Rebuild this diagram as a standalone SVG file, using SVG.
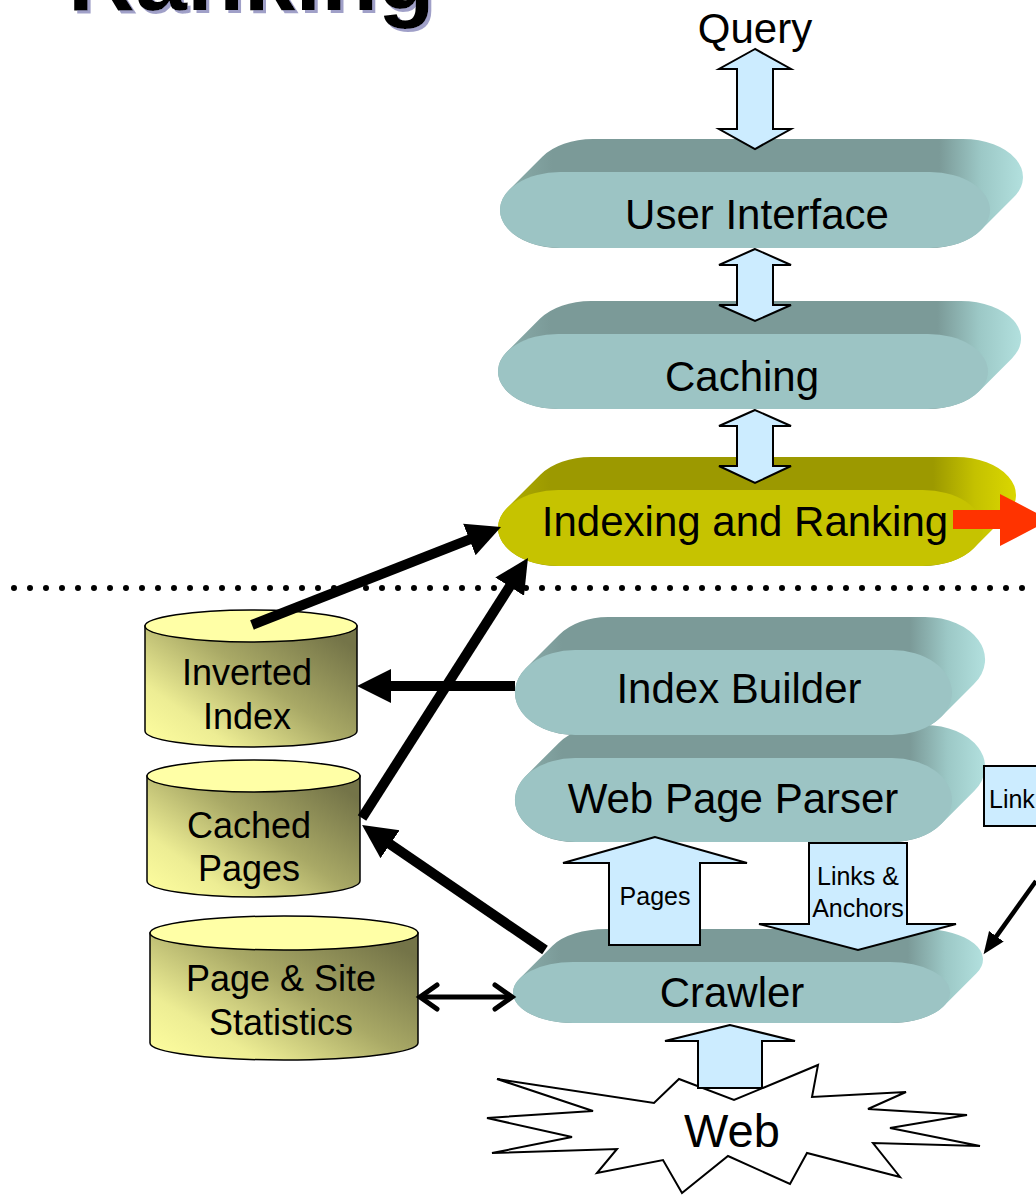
<svg xmlns="http://www.w3.org/2000/svg" width="1036" height="1196" viewBox="0 0 1036 1196">
  <defs>
    <style>
      text { font-family: "Liberation Sans", Arial, sans-serif; fill: #000; }
      .lbl { font-size: 42px; text-anchor: middle; }
      .dbl { font-size: 36px; text-anchor: middle; }
      .small { font-size: 25px; text-anchor: middle; }
      .face { fill: #9CC4C4; }
      .side { fill: url(#tealSide); }
      .faceY { fill: #C6C300; }
      .sideY { fill: url(#olivSide); }
      .blue { fill: #CCECFF; stroke: #000; stroke-width: 2; stroke-linejoin: miter; }
      .thick { stroke: #000; stroke-width: 10; fill: none; marker-end: url(#ah); }
      .cylBody { fill: url(#cylGrad); stroke: #000; stroke-width: 1.5; }
      .cylTop { fill: #FFFFA6; stroke: #000; stroke-width: 1.5; }
    </style>
    <filter id="titleShadow" x="-5%" y="-20%" width="110%" height="140%">
      <feFlood flood-color="#A0A0C8" result="c"/>
      <feComposite in="c" in2="SourceAlpha" operator="in" result="s"/>
      <feOffset in="s" dx="3" dy="3" result="o"/>
      <feMerge><feMergeNode in="o"/><feMergeNode in="SourceGraphic"/></feMerge>
    </filter>
    <linearGradient id="tealSide" x1="0" y1="0" x2="1" y2="0">
      <stop offset="0" stop-color="#8DB0AE"/>
      <stop offset="0.1" stop-color="#7B9A98"/>
      <stop offset="0.84" stop-color="#7B9A98"/>
      <stop offset="0.92" stop-color="#9CC8C6"/>
      <stop offset="1" stop-color="#B2E0DE"/>
    </linearGradient>
    <linearGradient id="olivSide" x1="0" y1="0" x2="1" y2="0">
      <stop offset="0" stop-color="#B2AF00"/>
      <stop offset="0.1" stop-color="#9C9900"/>
      <stop offset="0.84" stop-color="#9C9900"/>
      <stop offset="0.92" stop-color="#C4C100"/>
      <stop offset="1" stop-color="#DAD700"/>
    </linearGradient>
    <linearGradient id="cylGrad" x1="0" y1="1" x2="1" y2="0.2">
      <stop offset="0" stop-color="#FFFFA0"/>
      <stop offset="0.25" stop-color="#EDED94"/>
      <stop offset="0.6" stop-color="#A9A966"/>
      <stop offset="1" stop-color="#747448"/>
    </linearGradient>
    <marker id="ah" markerUnits="userSpaceOnUse" markerWidth="40" markerHeight="40" viewBox="0 -20 40 40" refX="1" refY="0" orient="auto">
      <path d="M0,-17 L34,0 L0,17 z" fill="#000"/>
    </marker>
    <marker id="ahs" markerUnits="userSpaceOnUse" markerWidth="26" markerHeight="22" viewBox="0 -11 26 22" refX="1" refY="0" orient="auto">
      <path d="M0,-9 L22,0 L0,9 z" fill="#000"/>
    </marker>
  </defs>

  <!-- heading (partially above the page) -->
  <g id="title">
    <text x="68" y="10" font-size="93" font-weight="bold" filter="url(#titleShadow)">Ranking</text>
  </g>

  <!-- separator between query side and indexing side -->
  <line id="divider" x1="14" y1="588" x2="1036" y2="588" stroke="#000" stroke-width="6" stroke-linecap="round" stroke-dasharray="0 16"/>

  <g id="query">
    <text class="lbl" x="755" y="43">Query</text>
  </g>

  <g id="user-interface">
    <path class="side" d="M509.3,189.7 L542.3,156.7 A60,38 0 0 1 593,139 L963,139 A60,38 0 0 1 1013.7,197.3 L980.7,230.3 A60,38 0 0 1 930,248 L560,248 A60,38 0 0 1 509.3,189.7 Z"/>
    <rect class="face" x="500" y="172" width="490" height="76" rx="60" ry="38"/>
    <text class="lbl" x="757" y="229">User Interface</text>
  </g>

  <g id="caching">
    <path class="side" d="M507.1,351.6 L540.1,318.6 A60,37.5 0 0 1 591,301 L961,301 A60,37.5 0 0 1 1011.9,358.4 L978.9,391.4 A60,37.5 0 0 1 928,409 L558,409 A60,37.5 0 0 1 507.1,351.6 Z"/>
    <rect class="face" x="498" y="334" width="490" height="75" rx="60" ry="37.5"/>
    <text class="lbl" x="742" y="391">Caching</text>
  </g>

  <g id="indexing-ranking">
    <path class="sideY" d="M507.3,507.7 L540.3,474.7 A60,38 0 0 1 591,457 L956,457 A60,38 0 0 1 1006.7,515.3 L973.7,548.3 A60,38 0 0 1 923,566 L558,566 A60,38 0 0 1 507.3,507.7 Z"/>
    <rect class="faceY" x="498" y="490" width="485" height="76" rx="60" ry="38"/>
    <text class="lbl" x="745" y="536">Indexing and Ranking</text>
  </g>

  <g id="web-page-parser">
    <path class="side" d="M525.8,775.9 L558.8,742.9 A60,42 0 0 1 608,725 L925,725 A60,42 0 0 1 974.2,791.1 L941.2,824.1 A60,42 0 0 1 892,842 L575,842 A60,42 0 0 1 525.8,775.9 Z"/>
    <rect class="face" x="515" y="758" width="437" height="84" rx="60" ry="42"/>
    <text class="lbl" x="733" y="813">Web Page Parser</text>
  </g>

  <g id="index-builder">
    <path class="side" d="M526,667.9 L559,634.9 A60,42.5 0 0 1 608,617 L925,617 A60,42.5 0 0 1 974,684.1 L941,717.1 A60,42.5 0 0 1 892,735 L575,735 A60,42.5 0 0 1 526,667.9 Z"/>
    <rect class="face" x="515" y="650" width="437" height="85" rx="60" ry="42.5"/>
    <text class="lbl" x="739" y="703">Index Builder</text>
  </g>

  <g id="crawler">
    <path class="side" d="M519.5,978.7 L552.5,945.7 A60,30.5 0 0 1 606,929 L923,929 A60,30.5 0 0 1 976.5,973.3 L943.5,1006.3 A60,30.5 0 0 1 890,1023 L573,1023 A60,30.5 0 0 1 519.5,978.7 Z"/>
    <rect class="face" x="513" y="962" width="437" height="61" rx="60" ry="30.5"/>
    <text class="lbl" x="732" y="1007">Crawler</text>
  </g>

  <g id="web">
    <polygon points="497,1079 654,1103 679,1079 734,1100 818,1065 812,1097 906,1092 868,1109 967,1115 890,1128 980,1146 873,1143 900,1177 807,1153 790,1184 728,1156 682,1193 663,1160 597,1173 617,1149 492,1153 572,1137 487,1118 593,1111" fill="#FFF" stroke="#000" stroke-width="2" stroke-linejoin="miter"/>
    <text x="732" y="1147" font-size="47" text-anchor="middle">Web</text>
  </g>

  <g id="inverted-index">
    <path class="cylBody" d="M145,626 L145,731 A106,16 0 0 0 357,731 L357,626 Z"/>
    <ellipse class="cylTop" cx="251" cy="626" rx="106" ry="16"/>
    <text class="dbl" x="247" y="685">Inverted</text>
    <text class="dbl" x="247" y="729">Index</text>
  </g>

  <g id="cached-pages">
    <path class="cylBody" d="M147,776 L147,881 A106.5,16 0 0 0 360,881 L360,776 Z"/>
    <ellipse class="cylTop" cx="253.5" cy="776" rx="106.5" ry="16"/>
    <text class="dbl" x="249" y="838">Cached</text>
    <text class="dbl" x="249" y="881">Pages</text>
  </g>

  <g id="page-site-statistics">
    <path class="cylBody" d="M150,933 L150,1043 A134,17 0 0 0 418,1043 L418,933 Z"/>
    <ellipse class="cylTop" cx="284" cy="933" rx="134" ry="17"/>
    <text class="dbl" x="281" y="991">Page &amp; Site</text>
    <text class="dbl" x="281" y="1035">Statistics</text>
  </g>

  <g id="links-box">
    <rect x="984" y="766" width="60" height="60" fill="#CCECFF" stroke="#000" stroke-width="2"/>
    <text x="989" y="808" font-size="25">Link</text>
  </g>

  <g id="connectors">
    <!-- block arrows between the layers -->
    <polygon class="blue" points="755,49 719,69 737,69 737,129 719,129 755,149 791,129 773,129 773,69 791,69"/>
    <polygon class="blue" points="755,249 719,265 737,265 737,305 719,305 755,321 791,305 773,305 773,265 791,265"/>
    <polygon class="blue" points="755,410 719,426 737,426 737,466 719,466 755,483 791,466 773,466 773,426 791,426"/>
    <polygon class="blue" points="655,837 563,863 609,863 609,945 700,945 700,863 747,863"/>
    <text class="small" x="655" y="905">Pages</text>
    <polygon class="blue" points="809,843 907,843 907,924 956,924 858,950 759,924 809,924"/>
    <text class="small" x="858" y="885">Links &amp;</text>
    <text class="small" x="858" y="917">Anchors</text>
    <polygon class="blue" points="730,1025 665,1041 698,1041 698,1088 762,1088 762,1041 795,1041"/>

    <!-- outgoing result arrow -->
    <polygon points="953,510 1000,510 1000,494 1050,520 1000,546 1000,529 953,529" fill="#FF3300"/>

    <!-- data flows -->
    <line class="thick" x1="252" y1="625" x2="470.3" y2="539.1"/>
    <line class="thick" x1="362" y1="818" x2="510.2" y2="585.8"/>
    <line class="thick" x1="515" y1="686" x2="390" y2="686"/>
    <line class="thick" x1="545" y1="950" x2="389.3" y2="843.6"/>
    <line x1="1036" y1="881" x2="995.8" y2="937.1" stroke="#000" stroke-width="4.5" marker-end="url(#ahs)"/>

    <!-- two-way link to statistics -->
    <line x1="421" y1="997" x2="511" y2="997" stroke="#000" stroke-width="5"/>
    <polyline points="437,985 420,997 437,1009" fill="none" stroke="#000" stroke-width="5" stroke-linecap="round" stroke-linejoin="miter"/>
    <polyline points="495,985 512,997 495,1009" fill="none" stroke="#000" stroke-width="5" stroke-linecap="round" stroke-linejoin="miter"/>
  </g>
</svg>
